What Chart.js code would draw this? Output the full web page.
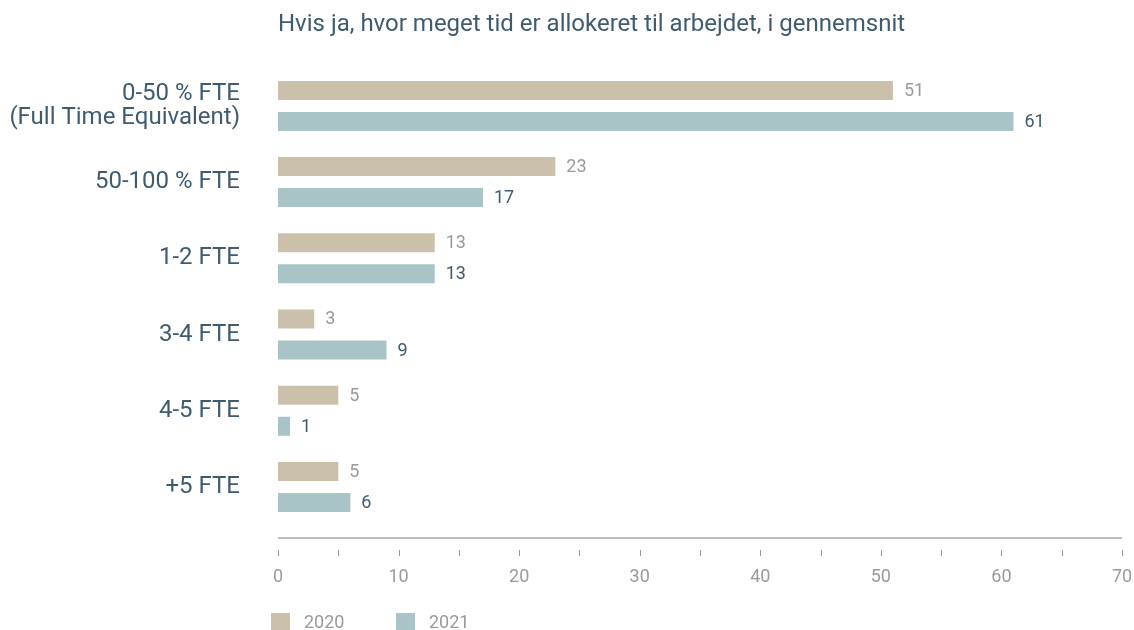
<!DOCTYPE html>
<html>
<head>
<meta charset="utf-8">
<script src="https://cdn.jsdelivr.net/npm/chart.js@4"></script>
<style>
  html, body { margin: 0; padding: 0; background: #fff; }
  #wrap { width: 1134px; height: 630px; }
</style>
</head>
<body>
<div id="wrap"><canvas id="chart" width="1134" height="630"></canvas></div>
<script>
// Chart data
const categories = [
    ['0-50 % FTE', '(Full Time Equivalent)'],
    '50-100 % FTE',
    '1-2 FTE',
    '3-4 FTE',
    '4-5 FTE',
    '+5 FTE'
];
const values2020 = [51, 23, 13, 3, 5, 5];
const values2021 = [61, 17, 13, 9, 1, 6];
const seriesLabels = ['2020', '2021'];
const xTicks = [0, 10, 20, 30, 40, 50, 60, 70];

const DARK = '#3f5b70';
const GREY = '#9a9a9a';
const FONT = 'Roboto, "Open Sans", sans-serif';

/**
 * Axis line with detached tick marks under the chart area
 */
const axisPlugin = {
    id: 'axisLine',
    afterDraw(chart) {
        const { ctx, chartArea, scales } = chart;
        const x = scales.x;
        const lineY = chartArea.bottom + 13;
        ctx.save();
        ctx.strokeStyle = '#a8a8a8';
        ctx.lineWidth = 1.5;
        ctx.beginPath();
        ctx.moveTo(x.getPixelForValue(0), lineY);
        ctx.lineTo(x.getPixelForValue(70), lineY);
        ctx.stroke();

        ctx.strokeStyle = '#999';
        ctx.lineWidth = 1;
        for (let v = 0; v <= 70; v += 5) {
            const px = Math.round(x.getPixelForValue(v)) + 0.5;
            ctx.beginPath();
            ctx.moveTo(px, lineY + 12);
            ctx.lineTo(px, lineY + 18);
            ctx.stroke();
        }
        ctx.restore();
    }
};

/**
 * Value labels at the end of each bar
 */
const valueLabels = {
    id: 'valueLabels',
    afterDatasetsDraw(chart) {
        const { ctx } = chart;
        ctx.save();
        ctx.font = '18px ' + FONT;
        ctx.textBaseline = 'middle';
        ctx.textAlign = 'left';
        chart.data.datasets.forEach((ds, i) => {
            const meta = chart.getDatasetMeta(i);
            ctx.fillStyle = i === 0 ? GREY : DARK;
            meta.data.forEach((bar, j) => {
                ctx.fillText(String(ds.data[j]), bar.x + 11, bar.y + 1);
            });
        });
        ctx.restore();
    }
};

/**
 * Legend at the bottom, left aligned with the plot
 */
const bottomLegend = {
    id: 'bottomLegend',
    afterDraw(chart) {
        const { ctx } = chart;
        const positions = [271, 396];
        const y = 613;
        ctx.save();
        ctx.font = '18px ' + FONT;
        ctx.textBaseline = 'middle';
        ctx.textAlign = 'left';
        chart.data.datasets.forEach((ds, i) => {
            ctx.fillStyle = ds.backgroundColor;
            ctx.fillRect(positions[i], y, 19, 18);
            ctx.fillStyle = GREY;
            ctx.fillText(ds.label, positions[i] + 33, y + 10);
        });
        ctx.restore();
    }
};

const ctx = document.getElementById('chart').getContext('2d');

new Chart(ctx, {
    type: 'bar',
    data: {
        labels: categories,
        datasets: [
            {
                label: seriesLabels[0],
                data: values2020,
                backgroundColor: '#cbc0a9',
                categoryPercentage: 0.814,
                barPercentage: 0.613
            },
            {
                label: seriesLabels[1],
                data: values2021,
                backgroundColor: '#a9c4c6',
                categoryPercentage: 0.814,
                barPercentage: 0.613
            }
        ]
    },
    options: {
        indexAxis: 'y',
        responsive: false,
        animation: false,
        layout: {
            padding: { left: 0, right: 12, top: 0, bottom: 0 }
        },
        scales: {
            x: {
                min: 0,
                max: 70,
                afterBuildTicks(scale) {
                    scale.ticks = xTicks.map(v => ({ value: v }));
                },
                afterFit(scale) {
                    scale.height = 105;
                    scale.paddingLeft = 0;
                    scale.paddingRight = 0;
                },
                grid: { display: false },
                border: { display: false },
                ticks: {
                    color: GREY,
                    padding: 34,
                    maxRotation: 0,
                    font: { family: FONT, size: 18 }
                }
            },
            y: {
                afterFit(scale) {
                    scale.width = 278;
                },
                grid: { display: false },
                border: { display: false },
                ticks: {
                    color: DARK,
                    padding: 30,
                    font: { family: FONT, size: 24, lineHeight: 1.0 }
                }
            }
        },
        plugins: {
            legend: { display: false },
            tooltip: { enabled: false },
            title: {
                display: true,
                text: 'Hvis ja, hvor meget tid er allokeret til arbejdet, i gennemsnit',
                align: 'start',
                fullSize: false,
                color: DARK,
                font: { family: FONT, size: 24, weight: 'normal', lineHeight: 1.2 },
                padding: { top: 11, bottom: 28 }
            }
        }
    },
    plugins: [axisPlugin, valueLabels, bottomLegend]
});
</script>
</body>
</html>
